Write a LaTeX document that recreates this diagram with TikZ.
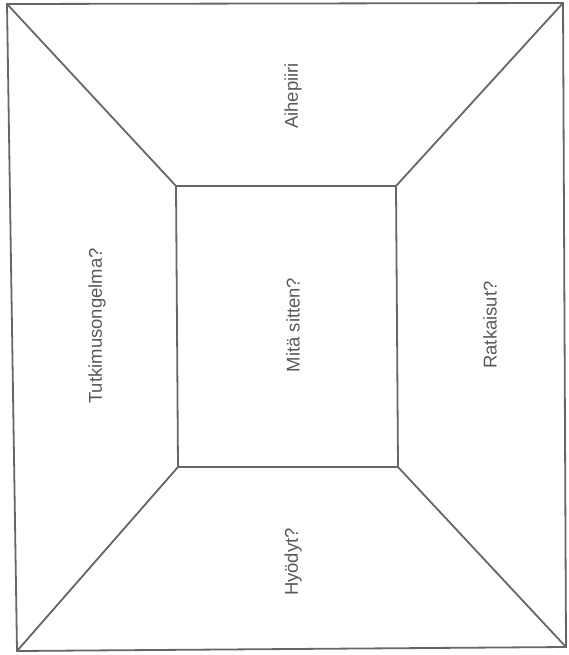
\documentclass[tikz,border=0pt]{standalone}
\usepackage{fontspec}
\setmainfont{Liberation Sans}
\begin{document}
\begin{tikzpicture}[x=1pt,y=-1pt,
  frame/.style={draw=black!60,line width=1.8pt},
  lbl/.style={text=black!65,font=\fontsize{18.5}{20}\selectfont,rotate=90,inner sep=0pt}]
\useasboundingbox (0,0) rectangle (568,655);
% outer corners
\coordinate (OTL) at (7,4);
\coordinate (OTR) at (563,3);
\coordinate (OBR) at (566,647);
\coordinate (OBL) at (17,651);
% inner corners
\coordinate (ITL) at (176,186);
\coordinate (ITR) at (396,186);
\coordinate (IBR) at (398,467);
\coordinate (IBL) at (178,467);
\draw[frame] (OTL) -- (OTR) -- (OBR) -- (OBL) -- cycle;
\draw[frame] (ITL) -- (ITR) -- (IBR) -- (IBL) -- cycle;
\draw[frame] (OTL) -- (ITL);
\draw[frame] (OTR) -- (ITR);
\draw[frame] (OBR) -- (IBR);
\draw[frame] (OBL) -- (IBL);
\node[lbl] (top) at (293,96) {Aihepiiri};
\node[lbl] (left) at (97,326) {Tutkimusongelma?};
\node[lbl] (mid) at (293,325) {Mitä sitten?};
\node[lbl] (right) at (490,325) {Ratkaisut?};
\node[lbl] (bottom) at (293,562) {Hyödyt?};
\end{tikzpicture}
\end{document}
